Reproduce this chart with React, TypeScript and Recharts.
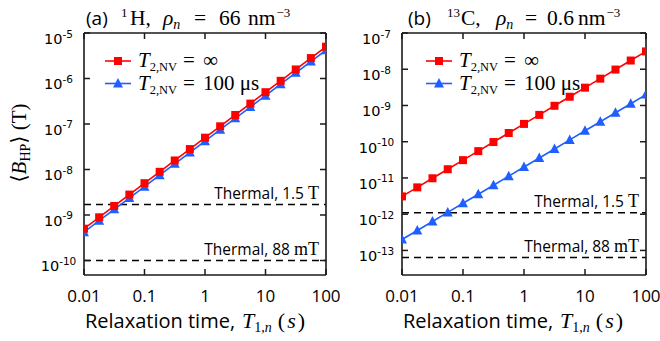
import {
  LineChart,
  Line,
  XAxis,
  YAxis,
  ReferenceLine,
} from "recharts";

// relaxation time T1,n (s), quarter-decade steps
const relaxTimes = [
  0.01, 0.0178, 0.0316, 0.0562, 0.1, 0.178, 0.316, 0.562, 1, 1.78, 3.16, 5.62,
  10, 17.8, 31.6, 56.2, 100,
];

// (a) 1H
const hInfinite = [
  5.0e-10, 8.9e-10, 1.58e-9, 2.81e-9, 5.0e-9, 8.9e-9, 1.58e-8, 2.81e-8, 5.0e-8,
  8.9e-8, 1.58e-7, 2.81e-7, 5.0e-7, 8.9e-7, 1.58e-6, 2.81e-6, 5.0e-6,
];
const hT2 = [
  4.2e-10, 7.5e-10, 1.33e-9, 2.36e-9, 4.2e-9, 7.5e-9, 1.33e-8, 2.36e-8, 4.2e-8,
  7.5e-8, 1.33e-7, 2.36e-7, 4.2e-7, 7.5e-7, 1.33e-6, 2.36e-6, 4.2e-6,
];
const hThermal = [1.7e-9, 1.0e-10];

// (b) 13C
const cInfinite = [
  3.1e-12, 5.5e-12, 9.8e-12, 1.74e-11, 3.1e-11, 5.5e-11, 9.8e-11, 1.74e-10,
  3.1e-10, 5.5e-10, 9.8e-10, 1.74e-9, 3.1e-9, 5.5e-9, 9.8e-9, 1.74e-8, 3.1e-8,
];
const cT2 = [
  2.0e-13, 3.56e-13, 6.3e-13, 1.12e-12, 2.0e-12, 3.56e-12, 6.3e-12, 1.12e-11,
  2.0e-11, 3.56e-11, 6.3e-11, 1.12e-10, 2.0e-10, 3.56e-10, 6.3e-10, 1.12e-9,
  2.0e-9,
];
const cThermal = [1.1e-12, 6.4e-14];

const thermalLabels = [
  ["Thermal, 1.5 ", "T"],
  ["Thermal, 88 ", "mT"],
];
const legendValues = ["∞", "100 μs"];

const xDomain: [number, number] = [0.01, 100];
const xTicks = [0.01, 0.1, 1, 10, 100];
const xTickLabels = ["0.01", "0.1", "1", "10", "100"];
const hTicks = [1e-10, 1e-9, 1e-8, 1e-7, 1e-6, 1e-5];
const cTicks = [1e-13, 1e-12, 1e-11, 1e-10, 1e-9, 1e-8, 1e-7];

const RED = "#ff0000";
const BLUE = "#1f5fff";
const INK = "#1a1a1a";
const TICK_SANS = "'DejaVu Sans', sans-serif";
const LABEL_SANS = "'Open Sans', sans-serif";
const SERIF = "'Liberation Serif', 'DejaVu Serif', serif";

const H = 341;
const TOP = 33;
const BOTTOM = 275;

const SquareDot = (props: any) => {
  const { cx, cy } = props;
  if (cx == null || cy == null) return null;
  return <rect x={cx - 4} y={cy - 4} width={8} height={8} fill={RED} />;
};

const TriangleDot = (props: any) => {
  const { cx, cy } = props;
  if (cx == null || cy == null) return null;
  return (
    <polygon
      points={`${cx},${cy - 5.5} ${cx - 5},${cy + 4} ${cx + 5},${cy + 4}`}
      fill={BLUE}
    />
  );
};

interface PanelProps {
  inf: number[];
  t2: number[];
  thermal: number[];
  yTicks: number[];
  yDomain: [number, number];
  width: number;
  plotLeft: number;
  plotRight: number;
  showYLabel: boolean;
}

function Panel({
  inf,
  t2,
  thermal,
  yTicks,
  yDomain,
  width,
  plotLeft,
  plotRight,
  showYLabel,
}: PanelProps) {
  const data = relaxTimes.map((t, i) => ({ t, inf: inf[i], t2: t2[i] }));

  // inward ticks on both sides, label "10^n" outside
  const yTick = (props: any) => {
    const { y, payload } = props;
    const exp = Math.round(Math.log10(payload.value));
    return (
      <g>
        <line x1={plotLeft} x2={plotLeft + 6} y1={y} y2={y} stroke={INK} strokeWidth={1.5} />
        <line x1={plotRight - 6} x2={plotRight} y1={y} y2={y} stroke={INK} strokeWidth={1.5} />
        <text
          x={plotLeft - 25.5}
          y={y + 11}
          textAnchor="middle"
          fontFamily={TICK_SANS}
          fontSize={14.5}
          fill="#000"
        >
          10
          <tspan dy={-6.5} fontSize={10.5}>
            {String(exp)}
          </tspan>
        </text>
      </g>
    );
  };

  const xTick = (props: any) => {
    const { x, payload } = props;
    const idx = xTicks.indexOf(payload.value);
    return (
      <g>
        <line x1={x} x2={x} y1={BOTTOM} y2={BOTTOM - 6} stroke={INK} strokeWidth={1.5} />
        <line x1={x} x2={x} y1={TOP} y2={TOP + 6} stroke={INK} strokeWidth={1.5} />
        <text
          x={x}
          y={BOTTOM + 27}
          textAnchor="middle"
          fontFamily={LABEL_SANS}
          fontSize={17}
          fill="#000"
        >
          {xTickLabels[idx]}
        </text>
      </g>
    );
  };

  const xLabel = () => {
    const left = plotLeft + 1;
    return (
      <text x={left} y={BOTTOM + 53} fontFamily={LABEL_SANS} fontSize={20} fill="#000">
        Relaxation time,
        <tspan dx={7} fontFamily={SERIF} fontStyle="italic" fontSize={22}>T</tspan>
        <tspan fontFamily={SERIF} fontSize={14} dy={4}>1,</tspan>
        <tspan fontFamily={SERIF} fontStyle="italic" fontSize={14}>n</tspan>
        <tspan dx={6} fontFamily={SERIF} fontSize={22} dy={-4}>(</tspan>
        <tspan dx={2} fontFamily={SERIF} fontStyle="italic" fontSize={22}>s</tspan>
        <tspan dx={2} fontFamily={SERIF} fontSize={22}>)</tspan>
      </text>
    );
  };

  const yLabel = () => (
    <text
      transform="translate(26,143) rotate(-90)"
      textAnchor="middle"
      fontFamily={SERIF}
      fontSize={21}
      fill="#000"
    >
      ⟨<tspan fontStyle="italic">B</tspan>
      <tspan fontSize={14} dy={4}>HP</tspan>
      <tspan dy={-4}>⟩ (T)</tspan>
    </text>
  );

  const thermalLabel = (i: number) => (props: any) => {
    const vb = props.viewBox || {};
    return (
      <text
        x={vb.x + vb.width - 7}
        y={vb.y - 5.5}
        textAnchor="end"
        fontFamily={LABEL_SANS}
        fontSize={15.5}
        fill="#000"
      >
        {thermalLabels[i][0]}
        <tspan fontFamily={SERIF} fontSize={18}>
          {thermalLabels[i][1]}
        </tspan>
      </text>
    );
  };

  return (
    <LineChart
      width={width}
      height={H}
      data={data}
      margin={{ top: TOP, right: width - plotRight, bottom: 0, left: 0 }}
    >
      <XAxis
        dataKey="t"
        type="number"
        scale="log"
        domain={xDomain}
        ticks={xTicks}
        interval={0}
        allowDataOverflow
        axisLine={{ stroke: INK, strokeWidth: 1.6 }}
        tickLine={false}
        tick={xTick}
        height={H - BOTTOM}
        label={xLabel}
      />
      <YAxis
        type="number"
        scale="log"
        domain={yDomain}
        ticks={yTicks}
        interval={0}
        allowDataOverflow
        axisLine={{ stroke: INK, strokeWidth: 1.6 }}
        tickLine={false}
        tick={yTick}
        width={plotLeft}
        label={showYLabel ? yLabel : undefined}
      />
      {thermal.map((v, i) => (
        <ReferenceLine
          key={i}
          y={v}
          stroke="#000"
          strokeWidth={1.4}
          strokeDasharray="7 5"
          label={thermalLabel(i)}
        />
      ))}
      <Line
        dataKey="t2"
        stroke={BLUE}
        strokeWidth={1.6}
        dot={<TriangleDot />}
        isAnimationActive={false}
      />
      <Line
        dataKey="inf"
        stroke={RED}
        strokeWidth={1.6}
        dot={<SquareDot />}
        isAnimationActive={false}
      />
      {/* top and right edges of the frame */}
      <ReferenceLine x={xDomain[1]} stroke={INK} strokeWidth={1.6} />
      <ReferenceLine y={yDomain[1]} stroke={INK} strokeWidth={1.6} />
    </LineChart>
  );
}

function LegendRows({ x, y }: { x: number; y: number }) {
  return (
    <g>
      {legendValues.map((v, i) => {
        const cy = y + i * 22.5;
        const color = i === 0 ? RED : BLUE;
        return (
          <g key={i}>
            <line x1={x} x2={x + 26} y1={cy} y2={cy} stroke={color} strokeWidth={1.6} />
            {i === 0 ? (
              <rect x={x + 9} y={cy - 4} width={8} height={8} fill={color} />
            ) : (
              <polygon
                points={`${x + 13},${cy - 5.5} ${x + 8},${cy + 4} ${x + 18},${cy + 4}`}
                fill={color}
              />
            )}
            <text x={x + 33} y={cy + 6} fontFamily={SERIF} fontSize={21} fill="#000">
              <tspan fontStyle="italic">T</tspan>
              <tspan fontSize={12.5} dy={4}>2,NV</tspan>
              <tspan x={x + 78} dy={-4}>=</tspan>
              <tspan x={x + 98}>{v}</tspan>
            </text>
          </g>
        );
      })}
    </g>
  );
}

function Overlay() {
  return (
    <svg
      width={660}
      height={341}
      style={{ position: "absolute", left: 0, top: 0, pointerEvents: "none" }}
    >
      <text y={25} fill="#000" fontFamily={SERIF} fontSize={21.5}>
        <tspan x={86} fontFamily={LABEL_SANS} fontSize={19}>(a)</tspan>
        <tspan x={121} dy={-8} fontSize={13}>1</tspan>
        <tspan x={130} dy={8}>H,</tspan>
        <tspan x={163} fontStyle="italic">ρ</tspan>
        <tspan dy={4} fontStyle="italic" fontSize={14}>n</tspan>
        <tspan x={194} dy={-4}>=</tspan>
        <tspan x={219}>66</tspan>
        <tspan x={248}>nm</tspan>
        <tspan dx={1} dy={-8} fontSize={13}>−3</tspan>
      </text>
      <text y={25} fill="#000" fontFamily={SERIF} fontSize={21.5}>
        <tspan x={408} fontFamily={LABEL_SANS} fontSize={19}>(b)</tspan>
        <tspan x={447} dy={-8} fontSize={13}>13</tspan>
        <tspan x={461} dy={8}>C,</tspan>
        <tspan x={496} fontStyle="italic">ρ</tspan>
        <tspan dy={4} fontStyle="italic" fontSize={14}>n</tspan>
        <tspan x={525} dy={-4}>=</tspan>
        <tspan x={547}>0.6</tspan>
        <tspan x={578}>nm</tspan>
        <tspan dx={1} dy={-8} fontSize={13}>−3</tspan>
      </text>
      <LegendRows x={105} y={61} />
      <LegendRows x={426} y={61} />
    </svg>
  );
}

export default function App() {
  return (
    <div
      style={{
        position: "absolute",
        left: 0,
        top: 0,
        width: 660,
        height: 341,
        background: "#fff",
      }}
    >
      <div style={{ position: "absolute", left: 0, top: 0 }}>
        <Panel
          inf={hInfinite}
          t2={hT2}
          thermal={hThermal}
          yTicks={hTicks}
          yDomain={[4.8e-11, 1e-5]}
          width={350}
          plotLeft={84}
          plotRight={326}
          showYLabel
        />
      </div>
      <div style={{ position: "absolute", left: 330, top: 0 }}>
        <Panel
          inf={cInfinite}
          t2={cT2}
          thermal={cThermal}
          yTicks={cTicks}
          yDomain={[2.1e-14, 1e-7]}
          width={330}
          plotLeft={72}
          plotRight={316}
          showYLabel={false}
        />
      </div>
      <Overlay />
    </div>
  );
}
